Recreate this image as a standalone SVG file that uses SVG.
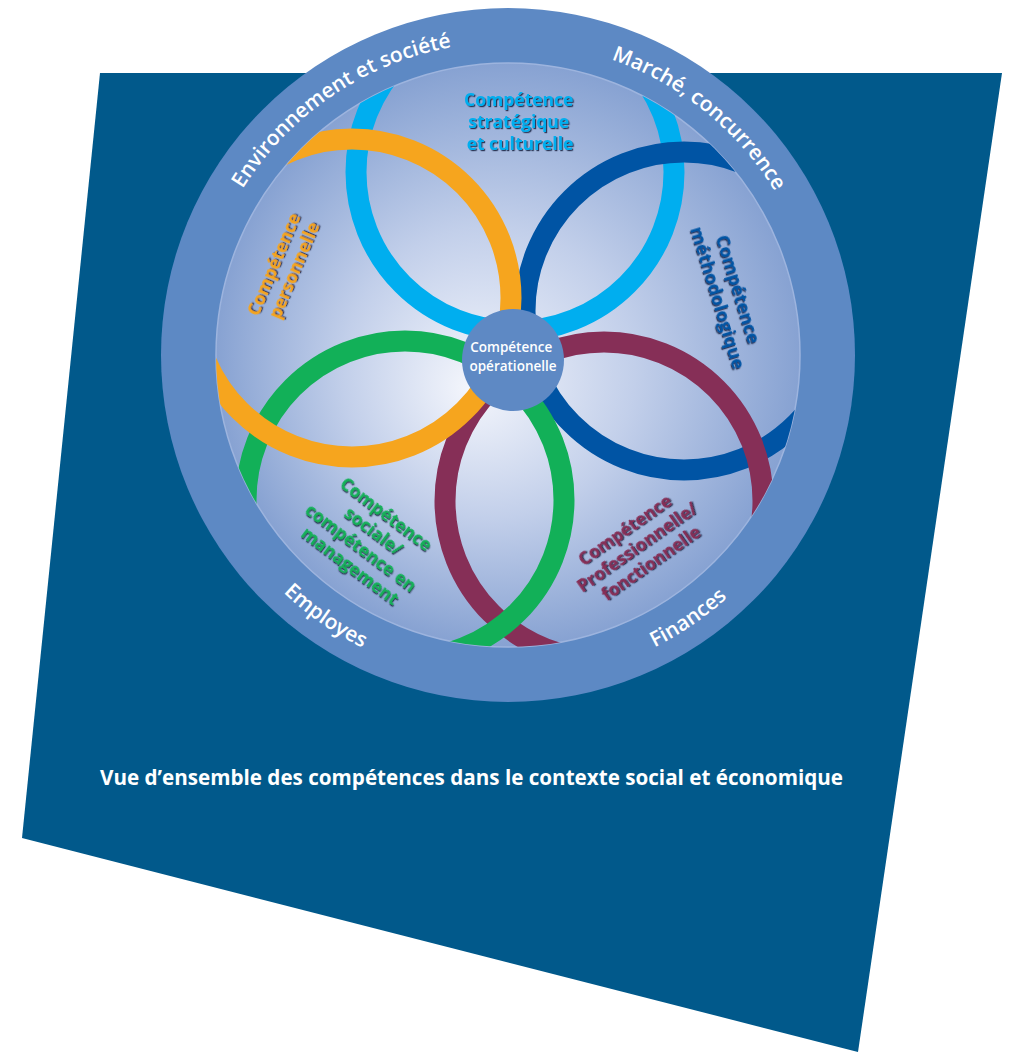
<svg xmlns="http://www.w3.org/2000/svg" width="1009" height="1052" viewBox="0 0 1009 1052">
  <defs>
    <radialGradient id="disk" gradientUnits="userSpaceOnUse" cx="508" cy="355" r="292" fx="470" fy="390">
      <stop offset="0" stop-color="#f4f6fc"/>
      <stop offset="0.5" stop-color="#c2cfea"/>
      <stop offset="1" stop-color="#87a2d2"/>
    </radialGradient>
    <clipPath id="innerClip">
      <circle cx="508" cy="355" r="292"/>
    </clipPath>
    <filter id="shadow" x="-10%" y="-10%" width="120%" height="120%">
      <feDropShadow dx="1.2" dy="1.2" stdDeviation="0.35" flood-color="#1d2b4a" flood-opacity="0.9"/>
    </filter>
    <path id="arcTop" d="M 195 355 A 313 313 0 0 1 821 355"/>
    <path id="arcBot" d="M 181 355 A 327 327 0 0 0 835 355"/>
    <style>
      .ring { fill: none; stroke-width: 21; }
      .band { font-family: "Open Sans", "Noto Sans", sans-serif; font-weight: 600; font-size: 21px; fill: #ffffff; }
      .lbl { font-family: "Open Sans", "Noto Sans", sans-serif; font-weight: 700; font-size: 17.5px; text-anchor: middle; filter: url(#shadow); }
      .ctr { font-family: "Open Sans", "Noto Sans", sans-serif; font-weight: 600; font-size: 13.5px; fill: #ffffff; text-anchor: middle; }
      .cap { font-family: "Open Sans", "Noto Sans", sans-serif; font-weight: 700; font-size: 22px; fill: #ffffff; }
    </style>
  </defs>

  <!-- background -->
  <polygon points="100,73 1002,73 858,1052 22,838" fill="#01598b"/>

  <!-- outer band and inner disk -->
  <circle cx="508" cy="355" r="347" fill="#5d89c4"/>
  <circle cx="508" cy="355" r="292" fill="url(#disk)" stroke="#9db4de" stroke-width="1.5"/>

  <!-- band labels -->
  <g id="band-labels">
    <text class="band"><textPath href="#arcTop" startOffset="31%" text-anchor="middle">Environnement et société</textPath></text>
    <text class="band"><textPath href="#arcTop" startOffset="71.6%" text-anchor="middle">Marché, concurrence</textPath></text>
    <text class="band"><textPath href="#arcBot" startOffset="30.6%" text-anchor="middle">Employes</textPath></text>
    <text class="band"><textPath href="#arcBot" startOffset="69.1%" text-anchor="middle">Finances</textPath></text>
  </g>

  <!-- rings (woven order) -->
  <g id="rings" clip-path="url(#innerClip)">
    <circle id="ring-strategique" class="ring" cx="515" cy="172" r="159" stroke="#00aeef"/>
    <circle id="ring-methodologique" class="ring" cx="684" cy="311" r="159" stroke="#0054a4"/>
    <circle id="ring-professionnelle" class="ring" cx="604" cy="501" r="159" stroke="#862f57"/>
    <circle id="ring-sociale" class="ring" cx="405" cy="500" r="159" stroke="#12b058"/>
    <circle id="ring-personnelle" class="ring" cx="352" cy="298" r="159" stroke="#f6a51e"/>
  </g>

  <!-- ring labels -->
  <g id="node-strategique">
    <text class="lbl" fill="#00aeef">
      <tspan x="521" y="106">Compétence</tspan>
      <tspan x="521" y="128">stratégique</tspan>
      <tspan x="520" y="150">et culturelle</tspan>
    </text>
  </g>
  <g id="node-personnelle" transform="translate(286,267) rotate(-67)">
    <text class="lbl" fill="#f6a51e">
      <tspan x="0" y="-6">Compétence</tspan>
      <tspan x="0" y="15">personnelle</tspan>
    </text>
  </g>
  <g id="node-methodologique" transform="translate(727,295) rotate(73)">
    <text class="lbl" fill="#0054a4" style="font-size:18px">
      <tspan x="0" y="-6">Compétence</tspan>
      <tspan x="0" y="15.5">méthodologique</tspan>
    </text>
  </g>
  <g id="node-sociale" transform="translate(368,542) rotate(37)">
    <text class="lbl" fill="#12b058">
      <tspan x="0" y="-27">Compétence</tspan>
      <tspan x="0" y="-6">sociale/</tspan>
      <tspan x="0" y="15">compétence en</tspan>
      <tspan x="0" y="36">management</tspan>
    </text>
  </g>
  <g id="node-professionnelle" transform="translate(639.5,547) rotate(-35)">
    <text class="lbl" fill="#862f57">
      <tspan x="0" y="-16.5">Compétence</tspan>
      <tspan x="0" y="4.5">Professionnelle/</tspan>
      <tspan x="0" y="25.5">fonctionnelle</tspan>
    </text>
  </g>

  <!-- center node -->
  <g id="node-operationnelle">
    <circle cx="513" cy="360" r="51" fill="#5e89c4"/>
    <text class="ctr">
      <tspan x="513" y="352">Compétence</tspan>
      <tspan x="513" y="371">opérationelle</tspan>
    </text>
  </g>

  <!-- caption -->
  <text class="cap" x="100" y="785" textLength="743" lengthAdjust="spacingAndGlyphs">Vue d’ensemble des compétences dans le contexte social et économique</text>
</svg>
